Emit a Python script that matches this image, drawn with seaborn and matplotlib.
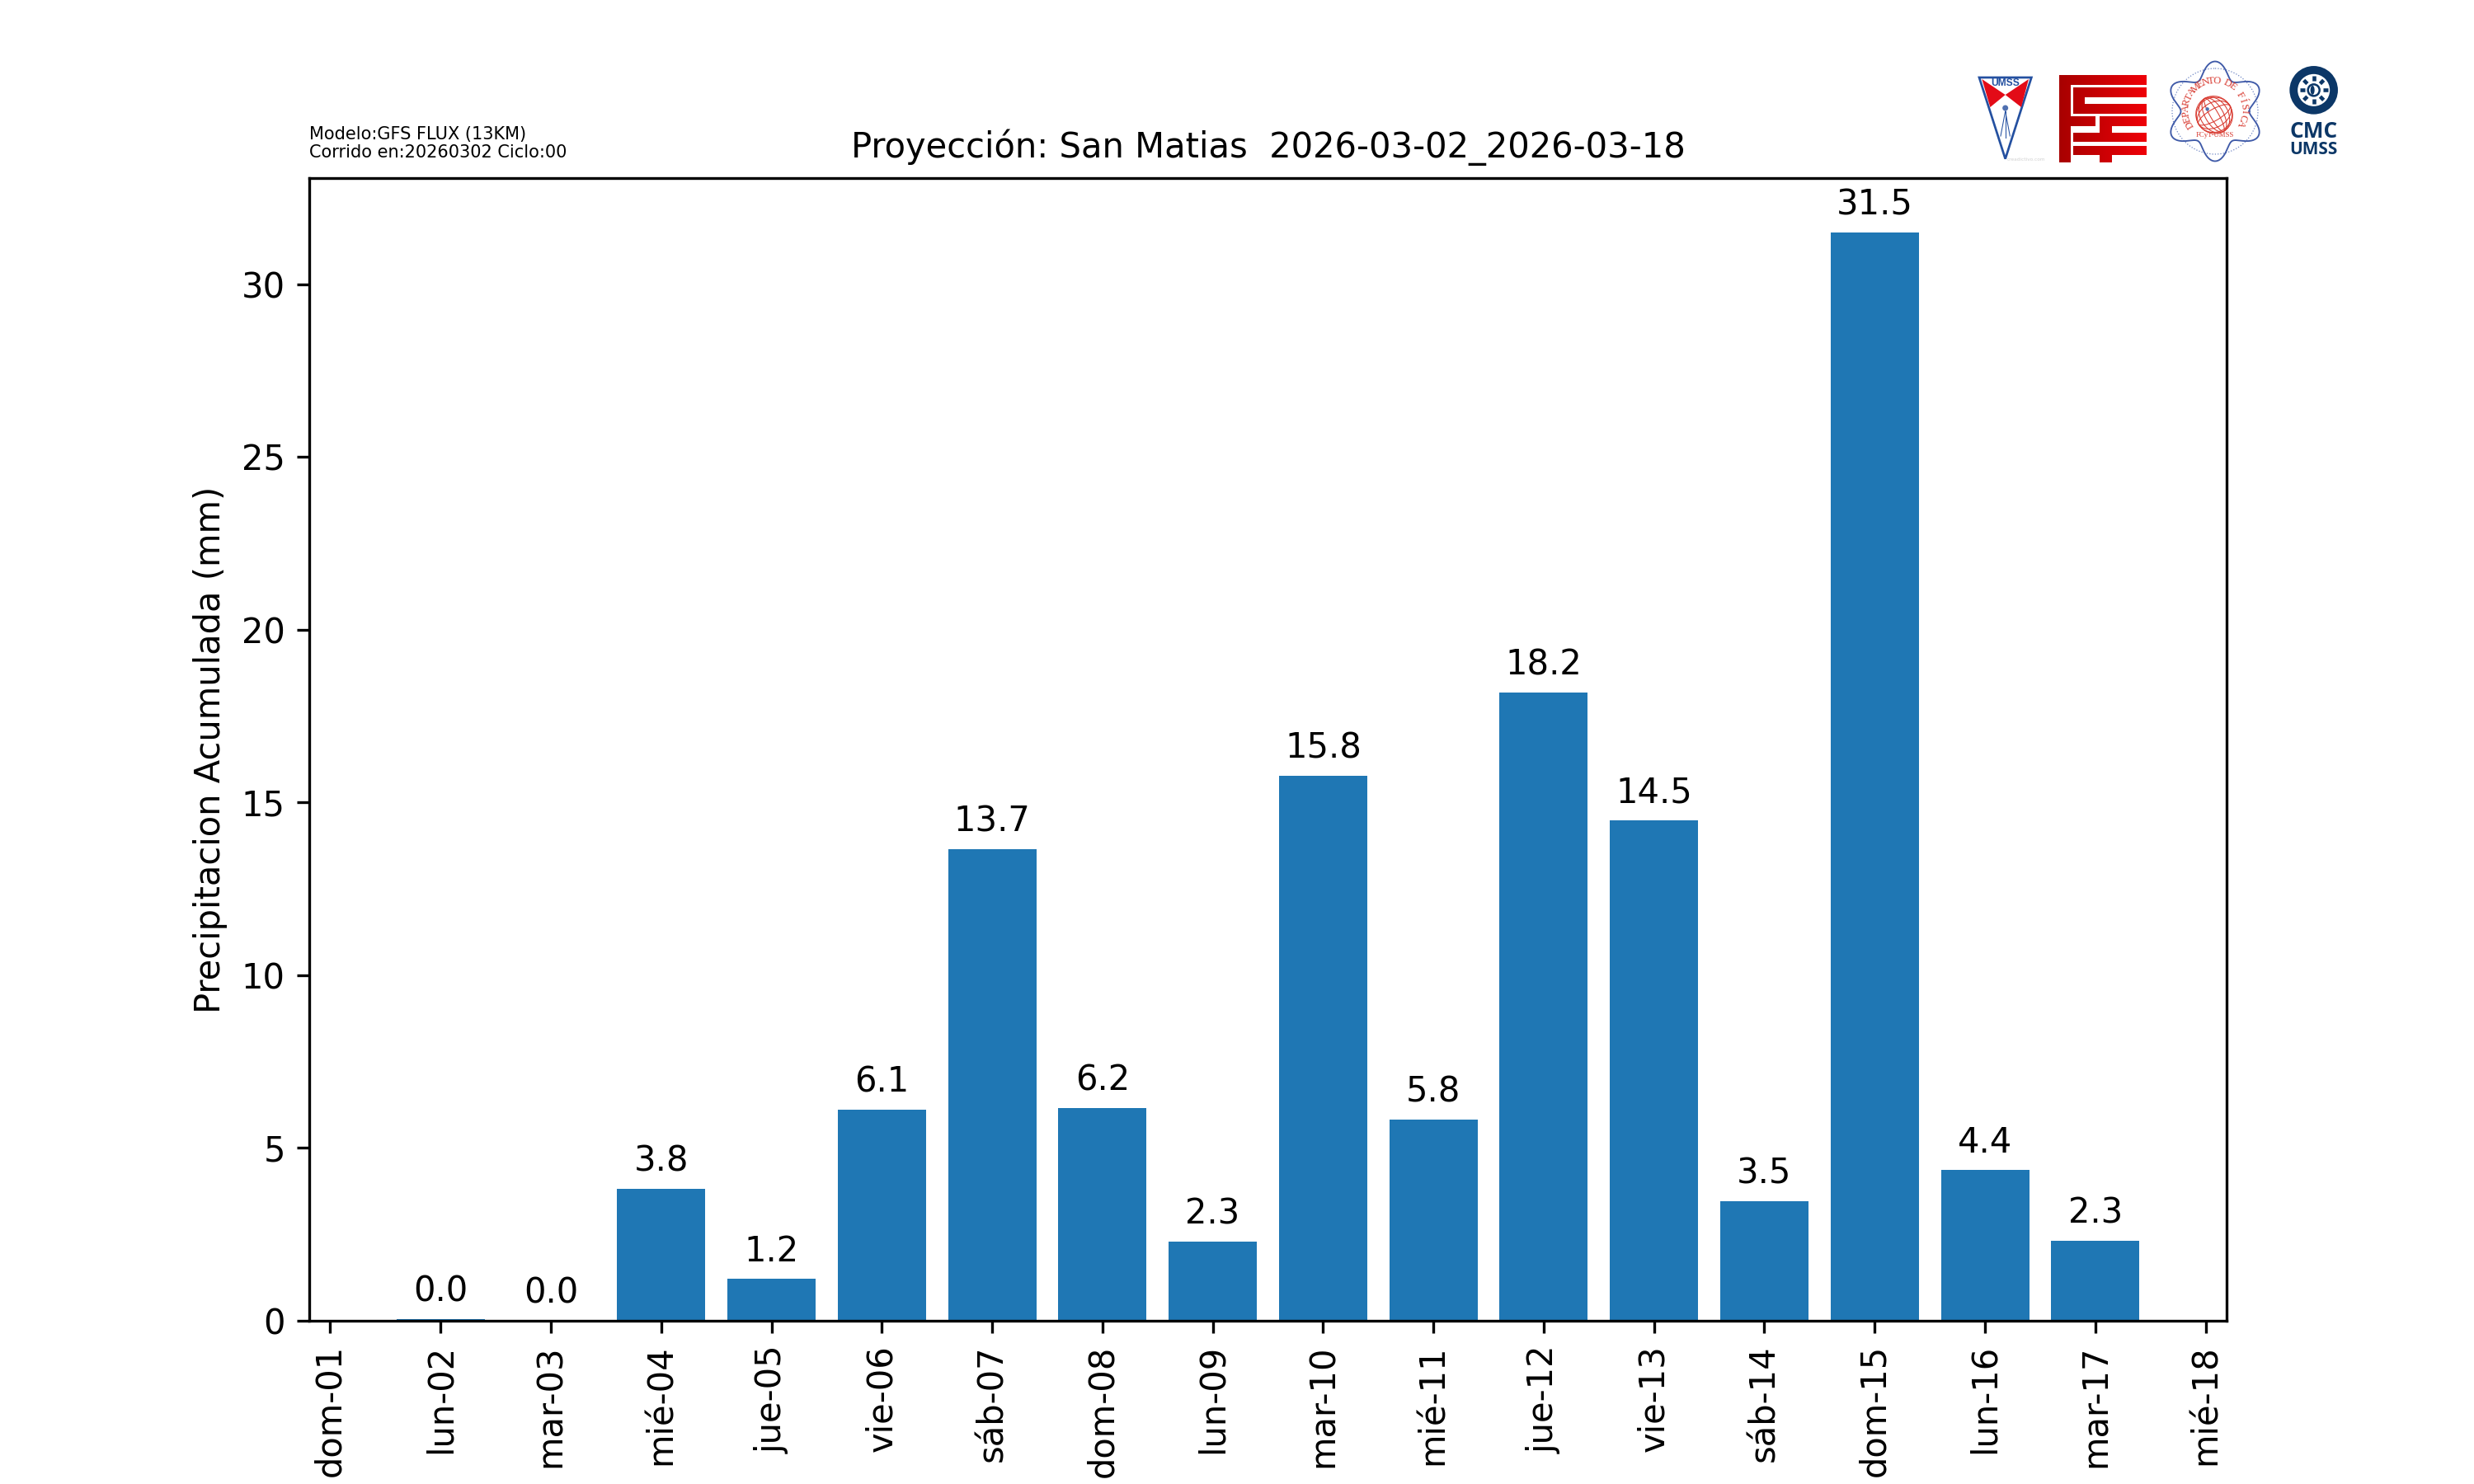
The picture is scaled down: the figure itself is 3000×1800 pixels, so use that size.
import numpy as np
import matplotlib
matplotlib.use("Agg")
import matplotlib.pyplot as plt
from matplotlib.colors import LinearSegmentedColormap
from matplotlib.patches import Polygon, Circle, Ellipse
import seaborn as sns

days = [2, 3, 4, 5, 6, 7, 8, 9, 10, 11, 12, 13, 14, 15, 16, 17]
precip = [0.04, 0.0, 3.82, 1.21, 6.11, 13.66, 6.15, 2.30, 15.77, 5.82, 18.19, 14.48, 3.46, 31.5, 4.36, 2.31]
tick_days = [1, 2, 3, 4, 5, 6, 7, 8, 9, 10, 11, 12, 13, 14, 15, 16, 17, 18]
tick_labels = ["dom-01", "lun-02", "mar-03", "mié-04", "jue-05", "vie-06", "sáb-07", "dom-08", "lun-09",
               "mar-10", "mié-11", "jue-12", "vie-13", "sáb-14", "dom-15", "lun-16", "mar-17", "mié-18"]

fig, ax = plt.subplots(figsize=(10, 6), dpi=300)
sns.barplot(x=days, y=precip, native_scale=True, color="#1f77b4", saturation=1, width=0.8, ax=ax)
ax.bar_label(ax.containers[0], fmt="%.1f", padding=3, fontsize=10)
ax.set_xticks(tick_days)
ax.set_xticklabels(tick_labels, rotation=90)
ax.set_ylabel("Precipitacion Acumulada (mm)")
ax.set_xlabel("")
ax.set_title("Proyección: San Matias  2026-03-02_2026-03-18", fontsize=10)
fig.text(375 / 3000, 1 - 195 / 1800, "Modelo:GFS FLUX (13KM)\nCorrido en:20260302 Ciclo:00",
         fontsize=5, ha="left", va="bottom", linespacing=1.1)

# Logos, drawn on an overlay in figure pixels
lg = fig.add_axes([0, 0, 1, 1], zorder=5)
lg.axis("off")


def Z(x, y):
    return 2380 + x / 3, 70 + y / 3


def W(x, y):
    return 2620 + x / 3, 70 + y / 3


# UMSS shield
BLUE = "#2450a0"
lg.add_patch(Polygon([Z(60, 72), Z(250, 72), Z(155, 368)], fc="white", ec=BLUE, lw=0.65))
lg.add_patch(Polygon([Z(70, 78), Z(155, 135), Z(100, 180)], fc="#e30b17", ec="none"))
lg.add_patch(Polygon([Z(240, 78), Z(155, 135), Z(213, 180)], fc="#e30b17", ec="none"))
lg.text(*Z(155, 93), "UMSS", color=BLUE, fontsize=2.9, fontweight="bold", family="Liberation Sans",
        ha="center", va="center")
lg.add_patch(Circle(Z(155, 183), 3.5, fc="#5070b0", ec="none"))
for ex, ey in ((138, 285), (155, 290), (172, 285)):
    lg.plot(*zip(Z(155, 195), Z(ex, ey)), color=BLUE, lw=0.25)
lg.text(*Z(231, 370), "creadictivo.com", color="#d0d0d0", fontsize=1.4, ha="center", va="center")

# FCyT maze
maze_rects = [(350, 390, 65, 380), (350, 668, 65, 100), (403, 668, 110, 145), (403, 443, 110, 203),
              (403, 668, 168, 203), (390, 483, 215, 250), (497, 668, 215, 250), (403, 668, 272, 305),
              (497, 540, 250, 272), (403, 668, 320, 353), (497, 540, 353, 380)]
cm = LinearSegmentedColormap.from_list("fcyt", ["#a80000", "#ee0008"])
for x0, x1, y0, y1 in maze_rects:
    g = np.linspace((x0 - 350) / 318, (x1 - 350) / 318, 32)[None, :]
    (a, b), (c, d) = Z(x0, y0), Z(x1, y1)
    lg.imshow(g, cmap=cm, vmin=0, vmax=1, extent=(a, c, d, b), aspect="auto", interpolation="bilinear")

# Departamento de Física seal
cx, cy = W(198, 195)
th = np.linspace(0, 2 * np.pi, 400)
r = 51 + 9.5 * np.cos(6 * (th + np.pi / 2))
lg.plot(cx + r * np.cos(th), cy + r * np.sin(th), color="#3f5aa8", lw=0.45)
lg.add_patch(Circle((cx, cy), 52, fc="none", ec="#6f86c4", lw=0.3, ls=":"))
RED = "#d8392f"
sx, sy = W(195, 208)
for w in (10, 22, 34, 44):
    lg.add_patch(Ellipse((sx, sy), w, 46, angle=-30, fc="none", ec=RED, lw=0.25))
for h in (14, 30, 42):
    lg.add_patch(Ellipse((sx, sy), 44, h, angle=-30, fc="none", ec=RED, lw=0.25))
lg.add_patch(Circle(W(170, 187), 2.2, fc="#5070b0", ec="none"))
seal = "DEPARTAMENTO DE FÍSICA"
angs = np.linspace(-211, 27, len(seal))
for ch, an in zip(seal, angs):
    px = cx + 35 * np.cos(np.radians(an))
    py = cy - 2 + 35 * np.sin(np.radians(an))
    lg.text(px, py, ch, color=RED, fontsize=3, family="Liberation Serif", ha="center", va="center",
            rotation=-an - 90, rotation_mode="anchor")
lg.text(*W(198, 282), "FCyT-UMSS", color=RED, fontsize=2.1, family="Liberation Serif",
        ha="center", va="center")

# CMC mark
NAVY = "#0c3767"
mx, my = W(557, 118)
lg.add_patch(Circle((mx, my), 29.3, fc=NAVY, ec="none"))
lg.add_patch(Circle((mx, my), 19.5, fc="white", ec="none"))
lg.add_patch(Circle((mx, my), 7, fc="white", ec=NAVY, lw=0.6))
lg.add_patch(Ellipse((mx - 1.5, my), 5, 11, fc=NAVY, ec="none"))
for an in range(0, 360, 45):
    ca, sa = np.cos(np.radians(an)), np.sin(np.radians(an))
    lg.plot([mx + 11 * ca, mx + 17 * ca], [my + 11 * sa, my + 17 * sa], color=NAVY, lw=1.1,
            solid_capstyle="butt")
lg.text(*W(557, 268), "CMC", color=NAVY, fontsize=6.3, fontweight="bold", family="Open Sans", ha="center", va="center")
lg.text(*W(557, 334), "UMSS", color=NAVY, fontsize=5.0, fontweight="bold", family="Open Sans", ha="center", va="center")

lg.set_xlim(0, 3000)
lg.set_ylim(1800, 0)

fig.savefig("out.png", dpi=300)
